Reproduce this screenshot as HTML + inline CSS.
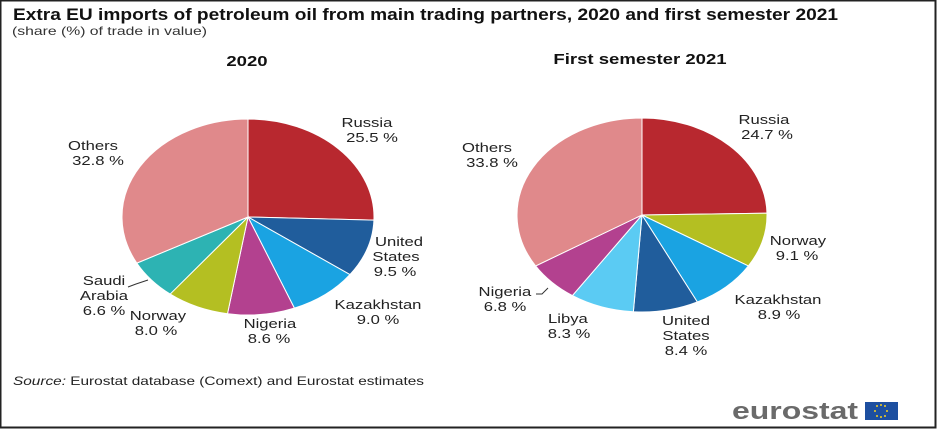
<!DOCTYPE html>
<html><head><meta charset="utf-8"><style>
body{margin:0;background:#fff;}
#c{position:relative;width:939px;height:433px;overflow:hidden;font-family:"Liberation Sans",Arial,sans-serif;}
text.s{transform-box:fill-box;transform-origin:center;transform:scaleX(1.28);}
</style></head><body><div id="c">
<svg width="939" height="433" viewBox="0 0 939 433" xmlns="http://www.w3.org/2000/svg" font-family="Liberation Sans, Arial, sans-serif">
<rect x="0.5" y="0.5" width="935" height="427" fill="#fff" stroke="#222" stroke-width="2"/>
<text x="13" y="20" font-size="17" font-weight="bold" fill="#111" textLength="825" lengthAdjust="spacingAndGlyphs">Extra EU imports of petroleum oil from main trading partners, 2020 and first semester 2021</text>
<text x="12" y="35" font-size="12" fill="#333" textLength="195" lengthAdjust="spacingAndGlyphs">(share (%) of trade in value)</text>
<text class="s" x="247" y="66" font-size="14.5" font-weight="bold" text-anchor="middle" fill="#111">2020</text>
<text class="s" x="640" y="64" font-size="14.5" font-weight="bold" text-anchor="middle" fill="#111">First semester 2021</text>
<g id="p1"></g><g id="p2"></g>
<g font-size="13" fill="#222" text-anchor="middle">
<text class="s" x="367" y="127">Russia</text><text class="s" x="372" y="142">25.5 %</text>
<text class="s" x="399" y="246">United</text><text class="s" x="396" y="261">States</text><text class="s" x="395" y="276">9.5 %</text>
<text class="s" x="378" y="309">Kazakhstan</text><text class="s" x="378" y="324">9.0 %</text>
<text class="s" x="270" y="328">Nigeria</text><text class="s" x="269" y="343">8.6 %</text>
<text class="s" x="158" y="320">Norway</text><text class="s" x="156" y="335">8.0 %</text>
<text class="s" x="104" y="285">Saudi</text><text class="s" x="104" y="300">Arabia</text><text class="s" x="104" y="315">6.6 %</text>
<text class="s" x="93" y="150">Others</text><text class="s" x="98" y="165">32.8 %</text>
<text class="s" x="764" y="124">Russia</text><text class="s" x="767" y="139">24.7 %</text>
<text class="s" x="798" y="245">Norway</text><text class="s" x="797" y="260">9.1 %</text>
<text class="s" x="778" y="304">Kazakhstan</text><text class="s" x="779" y="319">8.9 %</text>
<text class="s" x="686" y="325">United</text><text class="s" x="686" y="340">States</text><text class="s" x="686" y="355">8.4 %</text>
<text class="s" x="568" y="323">Libya</text><text class="s" x="569" y="338">8.3 %</text>
<text class="s" x="505" y="296">Nigeria</text><text class="s" x="505" y="311">6.8 %</text>
<text class="s" x="487" y="152">Others</text><text class="s" x="492" y="167">33.8 %</text>
</g>
<path d="M136 284 L148 280 M128 287 L136 284" stroke="#333" fill="none"/>
<path d="M548 288 L542 294 L536 294" stroke="#333" fill="none"/>
<text x="13" y="385" font-size="12" fill="#222" textLength="411" lengthAdjust="spacingAndGlyphs"><tspan font-style="italic">Source:</tspan> Eurostat database (Comext) and Eurostat estimates</text>
<text x="732" y="419" font-size="24" fill="#6a6a6a" font-weight="bold" textLength="126" lengthAdjust="spacingAndGlyphs">eurostat</text>
<rect x="865" y="402" width="33" height="18" fill="#1d4fa0"/>
<g fill="#f5d020"><circle cx="881" cy="405" r="1"/><circle cx="885" cy="406" r="1"/><circle cx="887" cy="411" r="1"/><circle cx="885" cy="416" r="1"/><circle cx="881" cy="417" r="1"/><circle cx="877" cy="416" r="1"/><circle cx="875" cy="411" r="1"/><circle cx="877" cy="406" r="1"/></g>
</svg>
<script>
function pie(id,cx,cy,rx,ry,data){
 var g=document.getElementById(id),a=0,s='';
 data.forEach(function(d){
  var a2=a+d[0]/100*2*Math.PI;
  var x1=cx+rx*Math.sin(a),y1=cy-ry*Math.cos(a),x2=cx+rx*Math.sin(a2),y2=cy-ry*Math.cos(a2);
  var big=(a2-a)>Math.PI?1:0;
  s+='<path d="M'+cx+' '+cy+' L'+x1+' '+y1+' A'+rx+' '+ry+' 0 '+big+' 1 '+x2+' '+y2+' Z" fill="'+d[1]+'" stroke="#fff" stroke-width="1"/>';
  a=a2;});
 g.innerHTML=s;}
pie('p1',248,217,126,98,[[25.5,'#b8282f'],[9.5,'#205d9c'],[9.0,'#1aa3e2'],[8.6,'#b3418f'],[8.0,'#b4bf22'],[6.6,'#2db3b3'],[32.8,'#e0898b']]);
pie('p2',642,215,125,97,[[24.7,'#b8282f'],[9.1,'#b4bf22'],[8.9,'#1aa3e2'],[8.4,'#205d9c'],[8.3,'#5bcbf3'],[6.8,'#b3418f'],[33.8,'#e0898b']]);
</script>
</div></body></html>
